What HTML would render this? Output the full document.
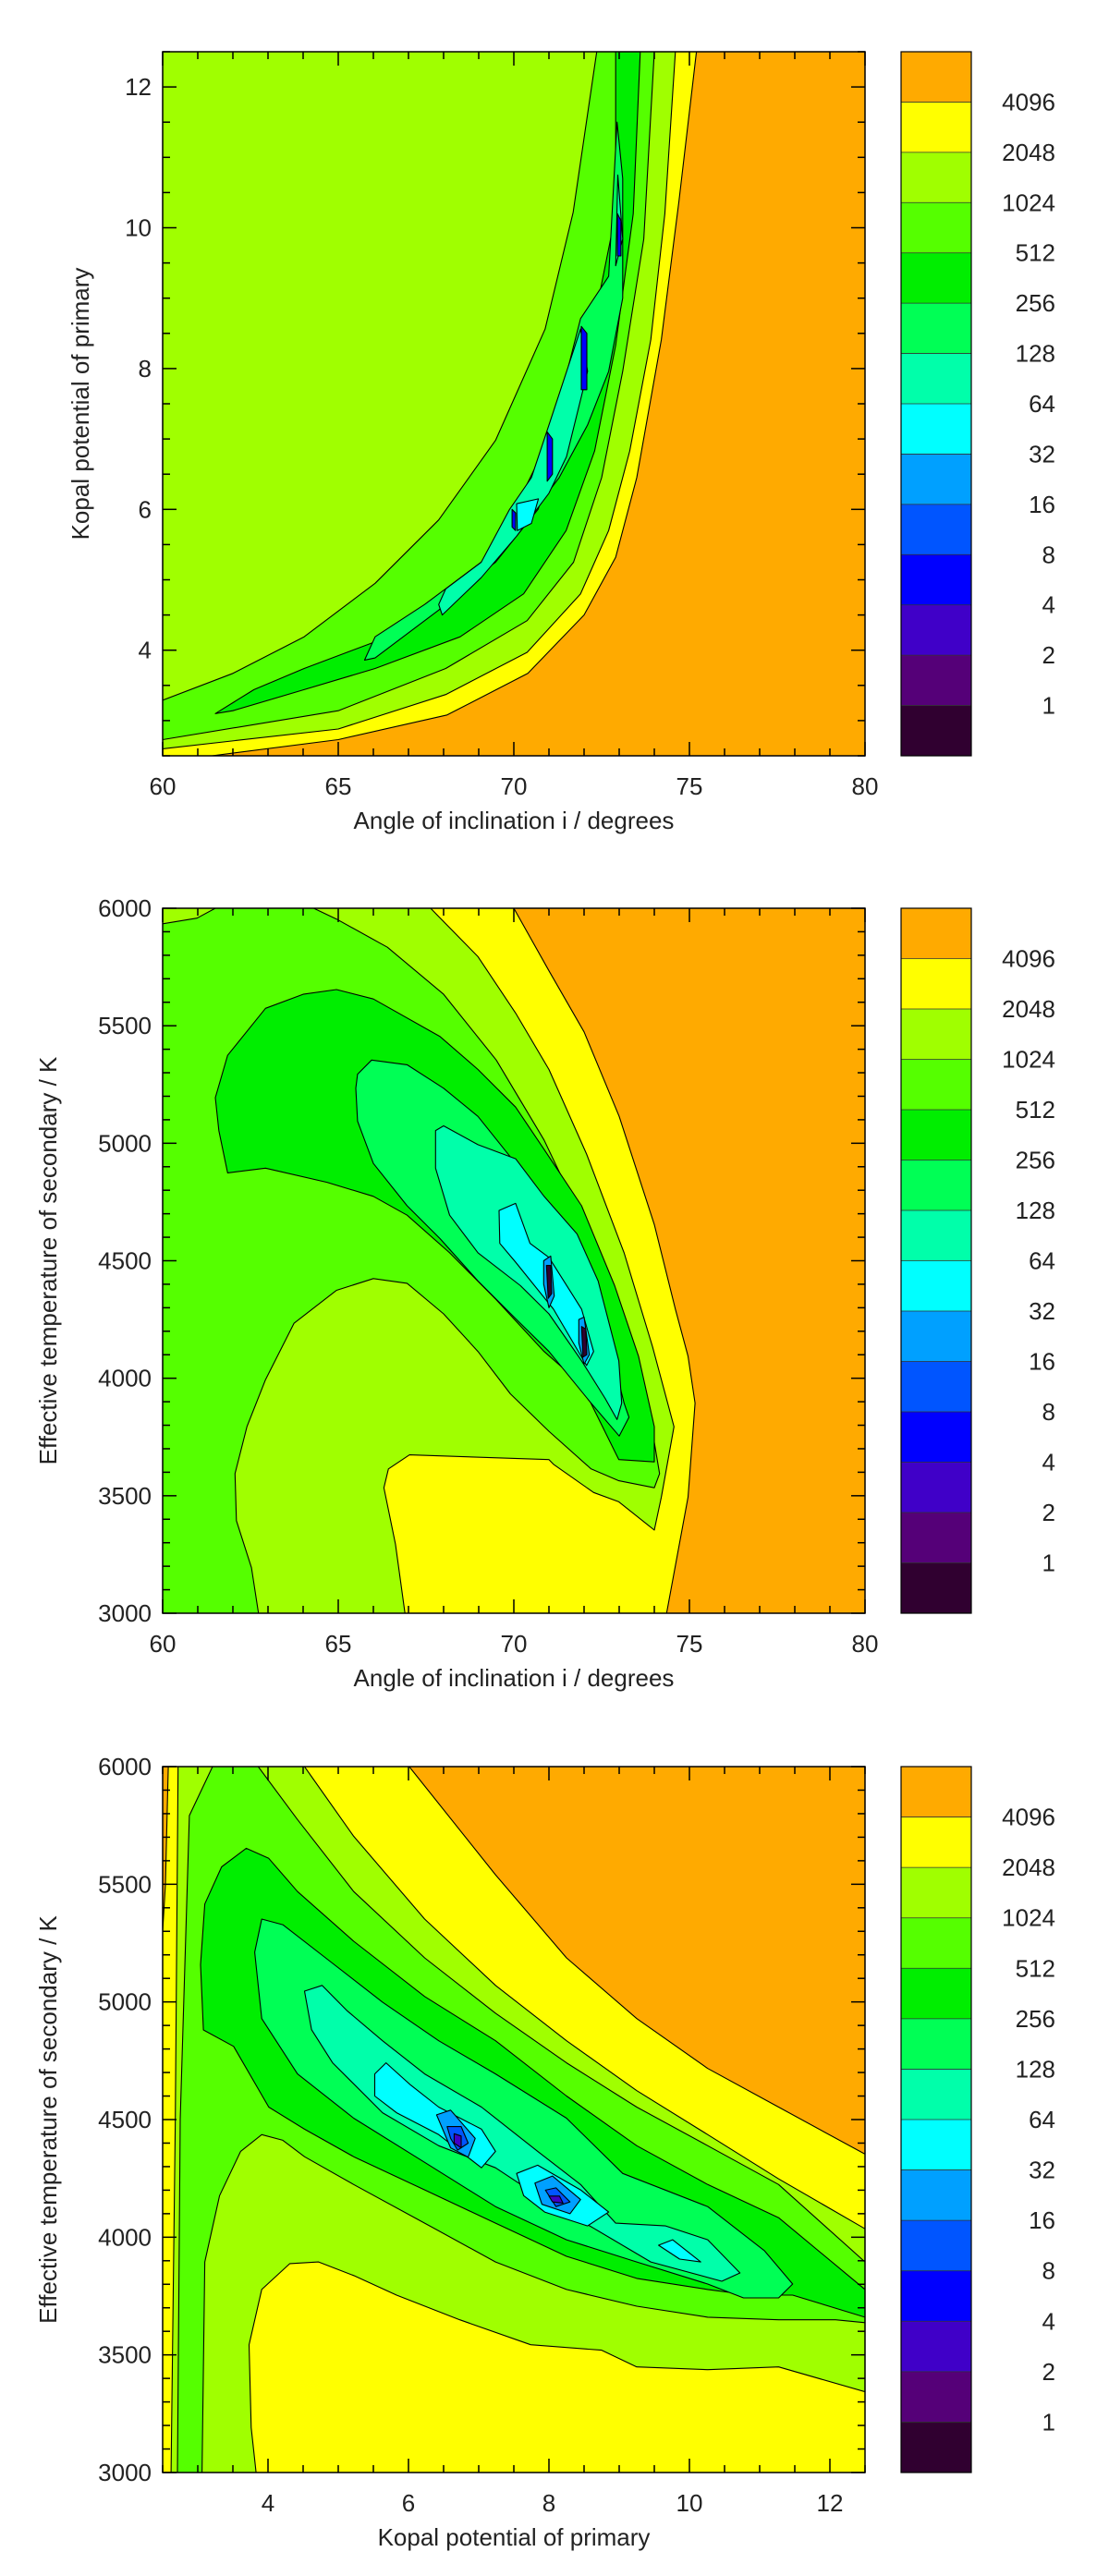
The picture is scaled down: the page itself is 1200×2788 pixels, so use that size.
<!DOCTYPE html>
<html><head><meta charset="utf-8"><style>
html,body{margin:0;padding:0;background:#fff;}
svg{display:block;}
text{font-family:"Liberation Sans",sans-serif;fill:#222;}
</style></head><body>
<svg id="chart" width="1200" height="2788" viewBox="0 0 1200 2788" xmlns="http://www.w3.org/2000/svg"></svg>
<script>
const COLORS = ['#ffaa00','#ffff00','#a0ff00','#55ff00','#00ee00','#00ff55','#00ffaa','#00ffff','#00a0ff','#0055ff','#0000ff','#4000c8','#550078','#300030'];
const CBAR_LABELS = ['4096','2048','1024','512','256','128','64','32','16','8','4','2','1'];

// Panel 1: inclination vs Kopal potential
const p1XTicks = [60,65,70,75,80];
const p1YTicks = [4,6,8,10,12];
const p1Yellow = [[61.4,2.5],[65,2.73],[68.1,3.08],[70.4,3.67],[72,4.5],[72.9,5.32],[73.5,6.45],[74.2,8.41],[74.7,10.37],[75.2,12.5],[60,12.5],[60,2.5]];
const p1Light = [[60,2.6],[65,2.88],[68.06,3.37],[70.38,3.97],[71.9,4.8],[72.7,5.7],[73.3,6.83],[73.9,8.41],[74.3,10.2],[74.6,12.5],[60,12.5]];
const p1Green = [[60,2.73],[65,3.14],[68.06,3.74],[70.38,4.42],[71.7,5.25],[72.5,6.45],[73.1,7.96],[73.7,9.84],[74.0,12.5],[72.36,12.5],[71.69,10.22],[70.89,8.56],[69.48,6.98],[67.86,5.85],[66.05,4.95],[64.03,4.19],[62,3.67],[60,3.29]];
const p1G256 = [[61.5,3.1],[62.6,3.44],[64.03,3.74],[66.05,4.12],[67.86,4.65],[69.48,5.25],[70.69,6.0],[71.49,7.2],[72.3,8.71],[72.9,10.2],[72.9,12.5],[73.6,12.5],[73.4,10.2],[72.9,8.33],[72.3,6.83],[71.49,5.7],[70.28,4.8],[68.47,4.19],[66.05,3.74],[64.03,3.44],[62.0,3.14]];
const p1G128 = [[65.75,3.86],[66.05,4.19],[67.46,4.65],[69.07,5.25],[69.88,5.85],[70.69,6.68],[71.29,7.51],[71.9,8.71],[72.7,9.31],[72.94,11.5],[73.1,10.7],[73.1,9.0],[72.7,7.96],[72.1,7.2],[71.29,6.45],[70.28,5.78],[69.07,5.1],[67.86,4.57],[66.05,3.89]];
const p1G64a = [[67.86,4.65],[68.06,4.87],[69.07,5.25],[69.88,6.0],[70.5,6.45],[71.0,7.2],[71.9,8.56],[72.1,7.96],[71.5,6.75],[71.0,6.23],[70.08,5.62],[69.07,5.03],[67.96,4.5]];
const p1G64b = [[72.96,10.75],[73.1,9.84],[72.9,9.46]];
const p1C32 = [[70.08,6.08],[70.7,6.15],[70.5,5.8],[70.1,5.7]];
const p1Dark1 = [[70.95,7.1],[71.1,7.0],[71.1,6.5],[70.95,6.4]];
const p1Dark2 = [[71.92,8.6],[72.08,8.5],[72.08,7.7],[71.92,7.7]];
const p1Dark3 = [[72.95,10.2],[73.05,10.1],[73.05,9.6],[72.95,9.6]];
const p1Dark4 = [[69.95,6.0],[70.05,5.95],[70.05,5.7],[69.95,5.75]];

// Panel 2: inclination vs Teff
const p2XTicks = [60,65,70,75,80];
const p2YTicks = [3000,3500,4000,4500,5000,5500,6000];
const p2Yellow = [[70.0,6000],[71.0,5734],[72.0,5474],[73.0,5114],[74.0,4654],[74.6,4294],[74.96,4094],[75.16,3894],[74.96,3494],[74.35,3000],[60,3000],[60,6000]];
const p2Light = [[60,6000],[67.63,6000],[68.98,5794],[70.05,5554],[71.0,5314],[72.07,4954],[73.14,4534],[73.95,4134],[74.56,3794],[74.2,3494],[74.0,3354],[72.99,3474],[72.27,3514],[71.13,3634],[71.0,3654],[67.03,3674],[66.43,3614],[66.3,3534],[66.63,3294],[66.9,3000],[60,3000]];
const p2Green = [[60,5934],[60.98,5958],[61.5,6000],[64.3,6000],[64.95,5954],[66.4,5834],[68.0,5634],[69.5,5354],[70.86,5014],[72.07,4634],[73.14,4234],[73.88,3834],[74.15,3594],[74.0,3534],[72.99,3564],[72.2,3614],[71.0,3774],[69.9,3934],[68.98,4114],[68.0,4274],[66.96,4404],[66.0,4424],[64.95,4374],[63.74,4234],[62.93,3994],[62.4,3794],[62.06,3594],[62.1,3394],[62.53,3194],[62.73,3000],[60,3000]];
const p2G256 = [[61.85,4874],[62.93,4894],[64.68,4834],[66.0,4774],[66.96,4694],[68.17,4534],[69.5,4334],[70.86,4114],[71.93,3974],[72.99,3654],[74.0,3644],[74.0,3794],[73.55,4094],[72.87,4394],[71.93,4734],[70.86,4974],[70.05,5154],[68.98,5314],[67.9,5454],[66.0,5614],[64.95,5654],[64.0,5634],[62.93,5574],[61.85,5374],[61.5,5194],[61.6,5054]];
const p2G128 = [[65.55,5294],[65.95,5354],[66.96,5334],[68.0,5234],[68.98,5114],[70.05,4914],[71.0,4654],[71.93,4414],[72.74,4134],[73.14,3894],[73.28,3834],[73.0,3754],[72.2,3894],[71.0,4114],[70.05,4254],[68.98,4414],[67.9,4594],[66.96,4734],[66.0,4914],[65.55,5094],[65.5,5234]];
const p2G64 = [[67.77,5054],[68.0,5074],[68.98,4994],[70.05,4934],[70.86,4774],[71.8,4614],[72.4,4414],[72.99,4074],[73.07,3894],[72.94,3824],[72.6,3914],[71.93,4074],[71.0,4274],[70.19,4394],[68.98,4534],[68.17,4694],[67.77,4894]];
const p2C32 = [[69.58,4714],[70.05,4744],[70.46,4574],[71.0,4514],[71.93,4294],[72.27,4114],[72.07,4054],[71.13,4294],[70.05,4494],[69.6,4574]];
const p2B16a = [[70.85,4500],[71.05,4520],[71.15,4350],[71.0,4300],[70.85,4400]];
const p2B16b = [[71.85,4250],[72.0,4260],[72.15,4100],[72.0,4060],[71.85,4150]];
const p2Dark1 = [[70.93,4480],[71.05,4480],[71.08,4360],[70.98,4340]];
const p2Dark2 = [[71.93,4220],[72.05,4210],[72.08,4100],[71.97,4090]];

// Panel 3: Kopal potential vs Teff
const p3XTicks = [4,6,8,10,12];
const p3YTicks = [3000,3500,4000,4500,5000,5500,6000];
const p3Orange = [[6.01,6000],[7.24,5540],[8.25,5187],[9.25,4929],[10.26,4717],[11.27,4553],[12.5,4353],[12.5,6000]];
const p3OrangeCorner = [[2.5,6000],[2.58,6000],[2.54,5500],[2.5,5300]];
const p3Light = [[2.62,3000],[2.68,4500],[2.72,6000],[4.52,6000],[5.22,5704],[6.23,5352],[7.24,5070],[8.25,4835],[9.25,4623],[10.26,4436],[11.27,4248],[12.5,4036],[12.5,3343],[11.27,3449],[10.26,3437],[9.25,3449],[8.75,3520],[7.74,3543],[6.73,3649],[5.83,3754],[5.22,3837],[4.72,3895],[4.31,3888],[3.91,3778],[3.73,3543],[3.76,3191],[3.83,3000]];
const p3Green = [[2.71,3000],[2.75,4500],[2.88,5792],[3.21,6000],[3.86,6000],[4.42,5775],[5.22,5469],[6.23,5187],[7.24,4952],[8.25,4741],[9.25,4553],[10.26,4389],[11.27,4224],[12.5,3895],[12.5,3637],[12.08,3649],[11.27,3649],[10.26,3660],[9.25,3707],[8.25,3778],[7.24,3895],[6.23,4060],[5.22,4224],[4.52,4342],[4.21,4412],[3.91,4436],[3.61,4365],[3.31,4177],[3.1,3895],[3.06,3000]];
const p3G256 = [[3.08,4881],[3.04,5158],[3.1,5416],[3.34,5574],[3.69,5653],[4.01,5610],[4.42,5469],[5.22,5258],[6.23,5023],[7.24,4835],[8.25,4600],[9.25,4389],[10.26,4224],[11.27,4083],[12.5,3778],[12.5,3660],[11.47,3754],[10.87,3754],[10.26,3778],[9.25,3825],[8.25,3919],[7.24,4060],[6.23,4201],[5.22,4342],[4.52,4459],[4.01,4553],[3.51,4811]];
const p3G128 = [[3.91,5352],[4.21,5328],[4.82,5187],[5.63,4999],[6.43,4835],[7.24,4694],[8.25,4506],[9.05,4271],[10.26,4130],[11.07,3942],[11.47,3801],[11.27,3742],[10.77,3742],[10.26,3801],[9.25,3895],[8.25,3989],[7.24,4130],[6.23,4318],[5.22,4506],[4.42,4694],[3.91,4929],[3.81,5211]];
const p3G64 = [[4.52,5046],[4.77,5070],[5.12,4964],[5.63,4835],[6.23,4694],[7.04,4553],[7.84,4365],[8.45,4224],[8.95,4060],[9.66,4048],[10.26,3989],[10.72,3848],[10.46,3813],[9.45,3895],[8.65,4036],[7.84,4177],[7.24,4295],[6.43,4389],[5.63,4529],[4.92,4741],[4.62,4882]];
const p3C32a = [[5.52,4694],[5.68,4741],[6.03,4647],[6.43,4553],[7.04,4459],[7.24,4365],[7.04,4295],[6.43,4436],[5.83,4529],[5.52,4600]];
const p3C32b = [[7.54,4271],[7.84,4306],[8.45,4201],[8.85,4107],[8.55,4048],[7.94,4107],[7.64,4177]];
const p3C32c = [[9.56,3966],[9.76,3989],[10.16,3895],[9.86,3907]];
const p3B16a = [[6.4,4520],[6.6,4540],[6.95,4420],[6.85,4340],[6.6,4380]];
const p3B16b = [[7.8,4230],[8.05,4260],[8.45,4160],[8.3,4100],[7.9,4140]];
const p3B8a = [[6.55,4470],[6.75,4470],[6.85,4400],[6.7,4370],[6.6,4420]];
const p3B8b = [[7.95,4200],[8.1,4210],[8.3,4150],[8.1,4130]];
const p3D4a = [[6.65,4440],[6.75,4430],[6.75,4380],[6.65,4400]];
const p3D4b = [[8.0,4175],[8.15,4175],[8.2,4145],[8.05,4150]];

const NS = 'http://www.w3.org/2000/svg';
const svg = document.getElementById('chart');
function mk(tag, attrs, parent){ const e=document.createElementNS(NS,tag); for(const k in attrs) e.setAttribute(k,attrs[k]); (parent||svg).appendChild(e); return e; }

const FX0=176, FX1=936, CBX0=975, CBX1=1051;

function drawPanel(idx, top, bottom, xmin, xmax, ymin, ymax, bg, layers, xTicks, xMinor, yTicks, yMinor, xTitle, yTitle, yTitleX, xFmt, yFmt){
  const g = mk('g',{});
  
  
  const sx = v => FX0 + (v-xmin)/(xmax-xmin)*(FX1-FX0);
  const sy = v => bottom - (v-ymin)/(ymax-ymin)*(bottom-top);
  const cp = mk('clipPath',{id:'clip'+idx},g);
  mk('rect',{x:FX0,y:top,width:FX1-FX0,height:bottom-top},cp);
  const plot = mk('g',{'clip-path':'url(#clip'+idx+')'},g);
  const bgr = mk('rect',{x:FX0,y:top,width:FX1-FX0,height:bottom-top,fill:COLORS[bg]},plot);
  
  
  layers.forEach((L,i)=>{
    const pts = L.pts.map(p=>sx(p[0]).toFixed(1)+','+sy(p[1]).toFixed(1)).join(' ');
    const pg = mk('polygon',{points:pts,fill:COLORS[L.c],stroke:'#000','stroke-width':1.1,'stroke-linejoin':'round'},plot);
    
    
  });
  const fr = mk('rect',{x:FX0,y:top,width:FX1-FX0,height:bottom-top,fill:'none',stroke:'#000','stroke-width':1.5},g);
  
  
  for(let v=xmin; v<=xmax+1e-9; v+=xMinor){
    const major = xTicks.some(t=>Math.abs(t-v)<1e-6);
    const L = major?15:8, x=sx(v);
    mk('line',{x1:x,y1:bottom,x2:x,y2:bottom-L,stroke:'#000','stroke-width':1.5},g);
    mk('line',{x1:x,y1:top,x2:x,y2:top+L,stroke:'#000','stroke-width':1.5},g);
  }
  const y0 = Math.ceil(ymin/yMinor)*yMinor;
  for(let v=y0; v<=ymax+1e-9; v+=yMinor){
    const major = yTicks.some(t=>Math.abs(t-v)<1e-6);
    const L = major?15:8, y=sy(v);
    mk('line',{x1:FX0,y1:y,x2:FX0+L,y2:y,stroke:'#000','stroke-width':1.5},g);
    mk('line',{x1:FX1,y1:y,x2:FX1-L,y2:y,stroke:'#000','stroke-width':1.5},g);
  }
  xTicks.forEach(t=>{
    const tx = mk('text',{x:sx(t),y:bottom+42,'font-size':26,'text-anchor':'middle'},g);
    tx.textContent = xFmt(t);
    
    
  });
  yTicks.forEach(t=>{
    const ty = mk('text',{x:FX0-12,y:sy(t)+9,'font-size':26,'text-anchor':'end'},g);
    ty.textContent = yFmt(t);
    
    
  });
  const xt = mk('text',{x:(FX0+FX1)/2,y:bottom+79,'font-size':26,'text-anchor':'middle'},g);
  xt.textContent = xTitle;
  
  
  const cy=(top+bottom)/2;
  const yt = mk('text',{x:yTitleX,y:cy,'font-size':26,'text-anchor':'middle',transform:'rotate(-90 '+yTitleX+' '+cy+')'},g);
  yt.textContent = yTitle;
  
  
  const cb = mk('g',{},g);
  
  
  const n = COLORS.length, h=(bottom-top)/n;
  COLORS.forEach((c,i)=>{
    const r = mk('rect',{x:CBX0,y:top+i*h,width:CBX1-CBX0,height:h+0.5,fill:c},cb);
    
    
  });
  for(let i=1;i<n;i++) mk('line',{x1:CBX0,y1:top+i*h,x2:CBX1,y2:top+i*h,stroke:'#333','stroke-width':0.8},cb);
  mk('rect',{x:CBX0,y:top,width:CBX1-CBX0,height:bottom-top,fill:'none',stroke:'#000','stroke-width':1.2},cb);
  CBAR_LABELS.forEach((lab,i)=>{
    const t = mk('text',{x:1142,y:top+(i+1)*h+9,'font-size':26,'text-anchor':'end'},cb);
    t.textContent = lab;
    
    
  });
}

const id = v=>String(v);
drawPanel(1,56,818,60,80,2.5,12.5,0,[
  {c:1,pts:p1Yellow},{c:2,pts:p1Light},{c:3,pts:p1Green},{c:4,pts:p1G256},{c:5,pts:p1G128},
  {c:6,pts:p1G64a},{c:6,pts:p1G64b},{c:7,pts:p1C32},{c:10,pts:p1Dark1},{c:10,pts:p1Dark2},{c:10,pts:p1Dark3},{c:10,pts:p1Dark4}
], p1XTicks,1,p1YTicks,0.5,'Angle of inclination i / degrees','Kopal potential of primary',96,id,id);

drawPanel(2,983,1746,60,80,3000,6000,0,[
  {c:1,pts:p2Yellow},{c:2,pts:p2Light},{c:3,pts:p2Green},{c:4,pts:p2G256},{c:5,pts:p2G128},
  {c:6,pts:p2G64},{c:7,pts:p2C32},{c:8,pts:p2B16a},{c:8,pts:p2B16b},{c:13,pts:p2Dark1},{c:13,pts:p2Dark2}
], p2XTicks,1,p2YTicks,100,'Angle of inclination i / degrees','Effective temperature of secondary / K',61,id,id);

drawPanel(3,1912,2676,2.5,12.5,3000,6000,1,[
  {c:0,pts:p3Orange},{c:0,pts:p3OrangeCorner},{c:2,pts:p3Light},{c:3,pts:p3Green},{c:4,pts:p3G256},{c:5,pts:p3G128},
  {c:6,pts:p3G64},{c:7,pts:p3C32a},{c:7,pts:p3C32b},{c:7,pts:p3C32c},{c:8,pts:p3B16a},{c:8,pts:p3B16b},
  {c:9,pts:p3B8a},{c:9,pts:p3B8b},{c:11,pts:p3D4a},{c:11,pts:p3D4b}
], p3XTicks,0.5,p3YTicks,100,'Kopal potential of primary','Effective temperature of secondary / K',61,id,id);
</script>
</body></html>
